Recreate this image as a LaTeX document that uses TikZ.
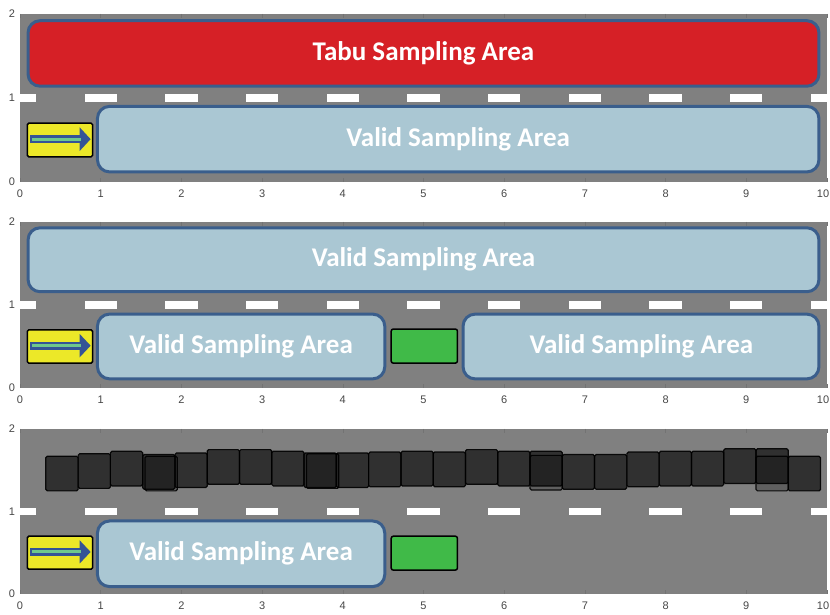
\documentclass[tikz,border=0pt]{standalone}
\usepackage{fontspec}
\setmainfont{Carlito}
\newfontfamily\axisfont{Liberation Sans}

\definecolor{road}{RGB}{128,128,128}
\definecolor{tabu}{RGB}{214,32,38}
\definecolor{validfill}{RGB}{170,199,211}
\definecolor{edgeblue}{RGB}{58,94,140}
\definecolor{cargreen}{RGB}{64,186,72}
\definecolor{caryellow}{RGB}{236,232,40}
\definecolor{arrowblue}{RGB}{52,84,150}
\definecolor{stripe}{RGB}{110,200,140}

\tikzset{
  area/.style={draw=edgeblue, line width=3pt, rounded corners=12pt},
  tabuarea/.style={area, fill=tabu},
  validarea/.style={area, fill=validfill},
  arealabel/.style={text=white, font=\bfseries\fontsize{27}{31}\selectfont, inner sep=0pt},
  lanemark/.style={fill=white},
  obstacle/.style={fill=cargreen, draw=black, line width=1.5pt, rounded corners=2pt},
  ego/.style={fill=caryellow, draw=black, line width=1.5pt, rounded corners=1.5pt},
  sample/.style={fill=black, fill opacity=0.62, draw=black, draw opacity=0.9,
                 line width=1.2pt, rounded corners=1.5pt},
  ticklabel/.style={font=\axisfont\fontsize{11}{13}\selectfont, text=black!72, inner sep=0pt},
  tickmark/.style={black!55, line width=0.5pt},
}

% road with lane markings, ticks and axis labels; #1 = name prefix
\newcommand\roadpanel[1]{%
  \fill[road] (0,0) rectangle (10,2);
  \foreach \k in {0,...,10}{
    \fill[lanemark] ({max(\k-0.2,0)},0.952) rectangle ({min(\k+0.2,10)},1.048);
    \draw[tickmark] (\k,0) -- ++(0,0.05);
    \draw[tickmark] (\k,2) -- ++(0,-0.05);
  }
  \foreach \k in {0,...,9}{
    \node[ticklabel] (#1x\k) at (\k,-0.14) {\k};
  }
  \node[ticklabel, xshift=-4pt] (#1x10) at (10,-0.14) {10};
  \foreach \k in {0,1,2}{
    \node[ticklabel, anchor=east] (#1y\k) at (-0.06,\k) {\k};
  }
}

% ego vehicle with its heading arrow
\newcommand\egocar{%
  \draw[ego] (0.09,0.30) rectangle (0.90,0.70);
  \draw[arrowblue, line width=8pt] (0.13,0.51) -- (0.78,0.51);
  \fill[arrowblue] (0.74,0.65) -- (0.875,0.51) -- (0.74,0.37) -- cycle;
  \draw[stripe, line width=3pt] (0.15,0.51) -- (0.76,0.51);
}

\begin{document}
\begin{tikzpicture}[x=1pt, y=1pt]
\useasboundingbox (0,0) rectangle (830,615);
\fill[white] (0,0) rectangle (830,615);

% ---------- panel 1: tabu area on the opposite lane ----------
\begin{scope}[shift={(20,433)}, x=80.7pt, y=84pt]
  \roadpanel{a}
  \draw[tabuarea] (0.10,1.14) rectangle (9.90,1.92);
  \node[arealabel] (tabuA) at (5.00,1.53) {Tabu Sampling Area};
  \draw[validarea] (0.96,0.12) rectangle (9.90,0.90);
  \node[arealabel] (validA) at (5.43,0.51) {Valid Sampling Area};
  \egocar
\end{scope}

% ---------- panel 2: obstacle splits the own lane ----------
\begin{scope}[shift={(20,227)}, x=80.7pt, y=83pt]
  \roadpanel{b}
  \draw[validarea] (0.10,1.16) rectangle (9.90,1.93);
  \node[arealabel] (validB) at (5.00,1.545) {Valid Sampling Area};
  \draw[validarea] (0.96,0.11) rectangle (4.52,0.89);
  \node[arealabel] (validBl) at (2.74,0.50) {Valid Sampling Area};
  \draw[obstacle] (4.60,0.30) rectangle (5.42,0.71);
  \draw[validarea] (5.49,0.11) rectangle (9.90,0.89);
  \node[arealabel] (validBr) at (7.70,0.50) {Valid Sampling Area};
  \egocar
\end{scope}

% ---------- panel 3: oncoming lane occupied by samples ----------
\begin{scope}[shift={(20,21)}, x=80.7pt, y=82.5pt]
  \roadpanel{c}
  \foreach \i/\b in {0/1.25, 1/1.28, 2/1.31, 3/1.27, 4/1.29, 5/1.33, 6/1.33, 7/1.31,
                     8/1.29, 9/1.29, 10/1.30, 11/1.31, 12/1.30, 13/1.33, 14/1.31,
                     15/1.31, 16/1.27, 17/1.27, 18/1.30, 19/1.31, 20/1.31, 21/1.34,
                     22/1.34, 23/1.25}{
    \draw[sample] ({0.32+0.4*\i},\b) rectangle ++(0.4,0.42);
  }
  \foreach \x/\b in {1.55/1.25, 3.55/1.28, 6.32/1.26, 9.12/1.25}{
    \draw[sample, fill opacity=0.25] (\x,\b) rectangle ++(0.4,0.42);
  }
  \draw[validarea] (0.96,0.09) rectangle (4.52,0.885);
  \node[arealabel] (validC) at (2.74,0.49) {Valid Sampling Area};
  \draw[obstacle] (4.60,0.29) rectangle (5.42,0.70);
  \egocar
\end{scope}
\end{tikzpicture}
\end{document}
